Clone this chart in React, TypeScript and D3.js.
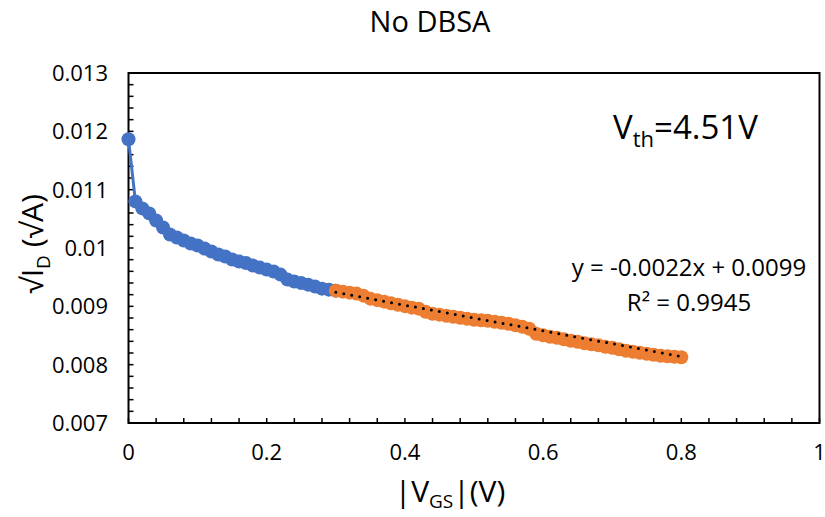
import React from "react";
import * as d3 from "d3";

const W = 825;
const H = 517;

// Blue series: |VGS| (V) 0 .. 0.30, √ID (√A)
const blueX = [0, 0.01, 0.02, 0.03, 0.04, 0.05, 0.06, 0.07, 0.08, 0.09, 0.1, 0.11, 0.12, 0.13, 0.14, 0.15, 0.16, 0.17, 0.18, 0.19, 0.2, 0.21, 0.22, 0.23, 0.24, 0.25, 0.26, 0.27, 0.28, 0.29, 0.3];
const blueY = [0.011865, 0.010799, 0.010679, 0.010593, 0.010472, 0.010352, 0.010232, 0.01018, 0.010129, 0.010077, 0.010043, 0.009991, 0.00994, 0.009888, 0.009854, 0.009802, 0.009768, 0.009742, 0.009699, 0.009664, 0.00963, 0.009596, 0.009544, 0.009458, 0.009424, 0.009398, 0.009372, 0.009338, 0.009303, 0.009286, 0.009269];

// Orange series (fitted region): 0.30 .. 0.80
const orangeX = [0.3, 0.31, 0.32, 0.33, 0.34, 0.35, 0.36, 0.37, 0.38, 0.39, 0.4, 0.41, 0.42, 0.43, 0.44, 0.45, 0.46, 0.47, 0.48, 0.49, 0.5, 0.51, 0.52, 0.53, 0.54, 0.55, 0.56, 0.57, 0.58, 0.59, 0.6, 0.61, 0.62, 0.63, 0.64, 0.65, 0.66, 0.67, 0.68, 0.69, 0.7, 0.71, 0.72, 0.73, 0.74, 0.75, 0.76, 0.77, 0.78, 0.79, 0.8];
const orangeY = [0.009269, 0.009252, 0.009235, 0.009218, 0.009183, 0.009132, 0.009106, 0.00908, 0.009054, 0.009028, 0.009003, 0.008977, 0.00896, 0.008908, 0.008874, 0.008857, 0.008839, 0.008822, 0.008805, 0.008788, 0.008771, 0.008762, 0.008753, 0.008736, 0.008719, 0.008702, 0.008676, 0.00865, 0.008616, 0.00853, 0.008504, 0.008478, 0.008461, 0.008435, 0.00841, 0.008392, 0.008367, 0.008349, 0.008332, 0.008306, 0.008289, 0.008263, 0.008238, 0.00822, 0.008203, 0.008186, 0.008169, 0.008152, 0.008143, 0.008135, 0.008126];

// Linear trend line shown on chart
const trendSlope = -0.0022;
const trendIntercept = 0.0099;
const trendRange = [0.3, 0.8];

const xTicks = [0, 0.2, 0.4, 0.6, 0.8, 1];
const xTickLabels = ["0", "0.2", "0.4", "0.6", "0.8", "1"];
const yTicks = [0.007, 0.008, 0.009, 0.01, 0.011, 0.012, 0.013];
const yTickLabels = ["0.007", "0.008", "0.009", "0.01", "0.011", "0.012", "0.013"];

const title = "No DBSA";
const eqText = "y = -0.0022x + 0.0099";
const r2Text = "R² = 0.9945";

const FONT = "'Open Sans', 'Noto Sans', sans-serif";

export default function App() {
  const left = 128.5, right = 819.5, top = 73, bottom = 423;
  const x = d3.scaleLinear().domain([0, 1]).range([left, right]);
  const y = d3.scaleLinear().domain([0.007, 0.013]).range([bottom, top]);

  const blue = blueX.map((v, i) => [v, blueY[i]] as [number, number]);
  const orange = orangeX.map((v, i) => [v, orangeY[i]] as [number, number]);
  const line = d3.line<[number, number]>().x((d) => x(d[0])).y((d) => y(d[1]));

  const xMinor = d3.range(0, 1.0001, 0.04);
  const yMinor = d3.range(0.007, 0.01300001, 0.0002);

  const axisColor = "#000";
  const blueC = "#4472C4";
  const orangeC = "#ED7D31";
  const r = 7;

  return (
    <svg width={W} height={H} style={{ display: "block", position: "absolute", left: 0, top: 0, background: "#fff" }} fontFamily={FONT}>
      <rect x={0} y={0} width={W} height={H} fill="#fff" />
      <text x={430} y={32} textAnchor="middle" fontSize={29} fill="#000">{title}</text>

      {/* minor ticks */}
      {xMinor.map((t, i) => (
        <line key={"xm" + i} x1={x(t)} x2={x(t)} y1={bottom} y2={bottom - 5} stroke={axisColor} strokeWidth={1.5} />
      ))}
      {yMinor.map((t, i) => (
        <line key={"ym" + i} x1={left} x2={left + 5} y1={y(t)} y2={y(t)} stroke={axisColor} strokeWidth={1.5} />
      ))}

      {/* plot box */}
      <rect x={left} y={top} width={right - left} height={bottom - top} fill="none" stroke={axisColor} strokeWidth={2} />

      {/* tick labels */}
      {xTicks.map((t, i) => (
        <text key={"xt" + i} x={x(t)} y={460} textAnchor="middle" fontSize={22} fill="#000">{xTickLabels[i]}</text>
      ))}
      {yTicks.map((t, i) => (
        <text key={"yt" + i} x={108} y={y(t)} dy="0.36em" textAnchor="end" fontSize={22} fill="#000">{yTickLabels[i]}</text>
      ))}

      {/* axis titles */}
      <text x={450} y={502} textAnchor="middle" fontSize={30} fill="#000">
        |V<tspan fontSize={19} dy={6}>GS</tspan><tspan dy={-6}>|(V)</tspan>
      </text>
      <text transform={`translate(43,${(top + bottom) / 2 - 4}) rotate(-90)`} textAnchor="middle" fontSize={30} fill="#000">
        √I<tspan fontSize={19} dy={7}>D</tspan><tspan dy={-7}> (√A)</tspan>
      </text>

      {/* blue series */}
      <path d={line(blue) || ""} fill="none" stroke={blueC} strokeWidth={3} />
      {blue.map((d, i) => (
        <circle key={"b" + i} cx={x(d[0])} cy={y(d[1])} r={r} fill={blueC} />
      ))}

      {/* orange series */}
      {orange.map((d, i) => (
        <circle key={"o" + i} cx={x(d[0])} cy={y(d[1])} r={r} fill={orangeC} />
      ))}

      {/* trend line */}
      <line
        x1={x(trendRange[0])}
        y1={y(trendSlope * trendRange[0] + trendIntercept)}
        x2={x(trendRange[1])}
        y2={y(trendSlope * trendRange[1] + trendIntercept)}
        stroke="#000"
        strokeWidth={3}
        strokeDasharray="0 8.1"
        strokeLinecap="round"
      />

      {/* annotations */}
      <text x={689} y={276} textAnchor="middle" fontSize={24} fill="#000">{eqText}</text>
      <text x={689} y={311} textAnchor="middle" fontSize={24} fill="#000">{r2Text}</text>
      <text x={613} y={139} fontSize={33} fill="#000">
        V<tspan fontSize={22} dy={8}>th</tspan><tspan dy={-8}>=4.51V</tspan>
      </text>
    </svg>
  );
}
